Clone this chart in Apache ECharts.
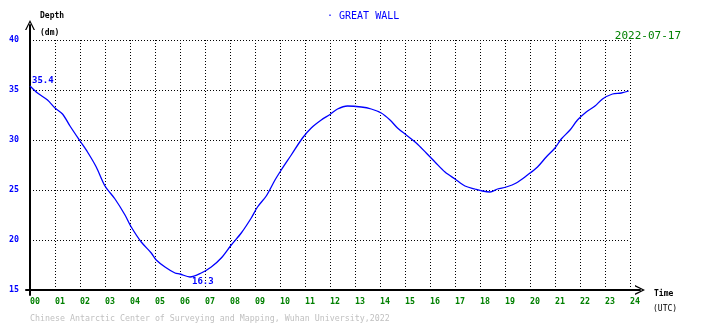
<!DOCTYPE html>
<html>
<head>
<meta charset="utf-8">
<script src="https://cdn.jsdelivr.net/npm/echarts@6/dist/echarts.min.js"></script>
<style>html,body{margin:0;padding:0;background:#fff}#c{width:710px;height:328px}</style>
</head>
<body>
<div id="c"></div>
<script>
var stationName = '· GREAT WALL';
var dateText = '2022-07-17';
var footerText = 'Chinese Antarctic Center of Surveying and Mapping, Wuhan University,2022';
var hours = [0.0,0.3,0.7,1.0,1.3,1.6,2.0,2.3,2.65,3.0,3.4,3.8,4.05,4.45,4.85,5.05,5.4,5.8,6.0,6.4,6.85,7.25,7.65,8.05,8.45,8.85,9.1,9.45,9.8,10.05,10.45,10.9,11.25,11.65,12.0,12.3,12.7,13.25,13.65,14.05,14.4,14.7,15.05,15.45,15.85,16.2,16.6,17.0,17.4,17.8,18.1,18.4,18.7,19.05,19.45,19.9,20.3,20.65,21.0,21.25,21.6,21.9,22.25,22.6,22.9,23.3,23.65,23.95];
var depth = [35.4,34.7,34.0,33.2,32.6,31.4,29.9,28.8,27.3,25.4,24.1,22.5,21.3,19.8,18.7,18.0,17.3,16.7,16.6,16.3,16.7,17.3,18.2,19.5,20.7,22.2,23.3,24.4,26.0,27.0,28.5,30.2,31.2,32.0,32.55,33.1,33.4,33.3,33.1,32.7,32.0,31.2,30.5,29.7,28.7,27.8,26.8,26.1,25.4,25.1,24.9,24.8,25.1,25.3,25.7,26.5,27.3,28.3,29.2,30.1,31.0,32.0,32.8,33.4,34.1,34.6,34.7,34.9];
var xTicks = {min:0, max:24, interval:1};
var yTicks = {min:15, max:40, interval:5};

var minVal = Math.min.apply(null, depth);
var minIdx = depth.indexOf(minVal);
var labelStyle = {show:true, color:'#0000ff', fontFamily:'DejaVu Sans Mono', fontSize:9, fontWeight:'bold',
  formatter:function(p){return p.value[1].toFixed(1);}};
var seriesData = hours.map(function(h,i){
  var item = {value:[h, depth[i]]};
  if (i === 0) item.label = Object.assign({}, labelStyle, {position:'right', offset:[-3,-5]});
  if (i === minIdx) item.label = Object.assign({}, labelStyle, {position:'right', offset:[-3,5]});
  return item;
});
var chev = 'path://M5,0 L10,10 L8.6,10 L5,2.6 L1.4,10 L0,10 Z';
var mono = 'DejaVu Sans Mono';
var chart = echarts.init(document.getElementById('c'), null, {renderer:'canvas'});
chart.setOption({
  animation:false,
  backgroundColor:'#ffffff',
  title:[
    {text:stationName, left:327, top:11, padding:0, textStyle:{color:'#0000ff', fontFamily:mono, fontSize:10, fontWeight:'normal'}},
    {text:dateText, right:29, top:31, padding:0, textStyle:{color:'#008000', fontFamily:mono, fontSize:11, fontWeight:'normal'}},
    {text:'Depth', left:40, top:12, padding:0, textStyle:{color:'#000', fontFamily:mono, fontSize:8, fontWeight:'bold'}},
    {text:'(dm)', left:40, top:29, padding:0, textStyle:{color:'#000', fontFamily:mono, fontSize:8, fontWeight:'bold'}},
    {text:'Time', left:654, top:290, padding:0, textStyle:{color:'#000', fontFamily:mono, fontSize:8, fontWeight:'bold'}},
    {text:'(UTC)', left:653, top:305, padding:0, textStyle:{color:'#000', fontFamily:mono, fontSize:8, fontWeight:'normal'}},
    {text:footerText, left:30, top:315, padding:0, textStyle:{color:'#c0c0c0', fontFamily:mono, fontSize:8.3, fontWeight:'normal'}}
  ],
  grid:[
    {left:30, right:80, top:40, bottom:38},
    {left:26, right:70, top:40, bottom:38},
    {left:30, right:80, top:25, bottom:33}
  ],
  xAxis:[
    {type:'value', gridIndex:0, min:xTicks.min, max:xTicks.max, interval:xTicks.interval,
      axisLine:{show:false}, axisTick:{show:false},
      axisLabel:{color:'#008000', fontFamily:mono, fontSize:8.3, fontWeight:'bold', margin:8, align:'left',
        formatter:function(v){return (v<10?'0':'')+v;}},
      splitLine:{show:true, lineStyle:{color:'#000', width:1, type:[1,2]}}},
    {type:'value', gridIndex:1, min:0, max:1, axisLabel:{show:false}, axisTick:{show:false}, splitLine:{show:false},
      axisLine:{show:true, symbol:['none', chev], symbolSize:[10,10], lineStyle:{color:'#000', width:2}}},
    {type:'value', gridIndex:2, show:false, min:0, max:1}
  ],
  yAxis:[
    {type:'value', gridIndex:0, min:yTicks.min, max:yTicks.max, interval:yTicks.interval,
      axisLine:{show:false}, axisTick:{show:false},
      axisLabel:{color:'#0000ff', fontFamily:mono, fontSize:8.3, fontWeight:'bold', margin:11, padding:[0,0,6,0]},
      splitLine:{show:true, lineStyle:{color:'#000', width:1, type:[1,2]}}},
    {type:'value', gridIndex:1, show:false, min:0, max:1},
    {type:'value', gridIndex:2, min:0, max:1, axisLabel:{show:false}, axisTick:{show:false}, splitLine:{show:false},
      axisLine:{show:true, symbol:['none', chev], symbolSize:[10,10], lineStyle:{color:'#000', width:2}}}
  ],
  series:[{
    type:'line', xAxisIndex:0, yAxisIndex:0, data:seriesData, smooth:0.3,
    showSymbol:true, symbol:'circle', symbolSize:0.01, itemStyle:{color:'#0000ff'},
    label:{show:false},
    lineStyle:{color:'#0000ff', width:1.3}, z:5
  }]
});
</script>
</body>
</html>
